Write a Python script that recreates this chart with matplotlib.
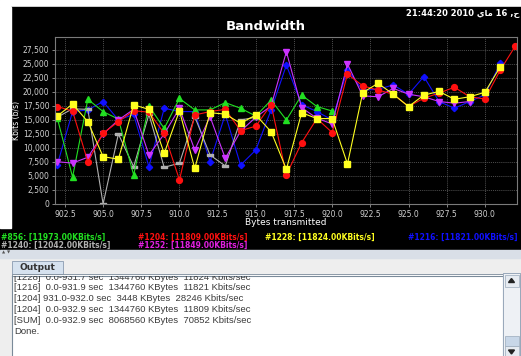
import numpy as np
import matplotlib.pyplot as plt
from matplotlib.patches import Rectangle, Polygon
from matplotlib.ticker import FixedLocator, FixedFormatter

W, H = 521, 356

# --- bandwidth samples (Kbits/s) per stream, one per second ---
seconds = np.arange(902, 933)
nan = np.nan

rate_856 = [15350, 4800, 18700, 16500, 15150, 5200, 17500, 13500, 18850, 16800,
            16800, 18100, 17100, 15700, 18550, 15000, 19450, 17400, 16600, nan,
            nan, nan, nan, nan, nan, nan, nan, nan, nan, nan, nan]
rate_1204 = [17400, 16600, 7550, 12650, 14700, 16650, 16400, 12600, 4300, 15900,
             16500, 16900, 13100, 13900, 17750, 5200, 10950, 15250, 12750, 23200,
             21100, 20350, 19600, 17400, 18900, 19800, 20850, 19150, 18750, 23900,
             28246]
rate_1228 = [15700, 17850, 14700, 8450, 8000, 17700, 16900, 9050, 16650, 6350,
             16300, 16050, 14400, 15900, 12900, 6200, 16300, 15250, 15250, 7150,
             19900, 21550, 19600, 17400, 19450, 20100, 18700, 19150, 19950, 24500,
             nan]
rate_1216 = [7000, 16500, 16800, 18300, 15000, 16000, 6650, 17100, 16500, 16500,
             7550, 16000, 6950, 9650, 16800, 24800, 17750, 16500, 15000, 24000,
             20300, 20500, 21250, 19600, 22750, 18300, 17100, 18300, 19500, 25100,
             nan]
rate_1240 = [15500, 17000, 16900, 0, 12500, 6650, 16000, 6550, 7300, 15600,
             8750, 6800, 15000, 15500, nan, nan, nan, nan, nan, nan,
             nan, nan, nan, nan, nan, nan, nan, nan, nan, nan, nan]
rate_1252 = [7550, 7300, 8350, 12500, 15000, 16900, 8750, 12500, 17100, 9650,
             15600, 8150, 13000, 15500, 17500, 27200, 17200, 15300, 14300, 25000,
             19300, 19150, 20650, 19600, 19150, 18300, 18000, 18300, nan, nan,
             nan]

legend_rows = [
    [("#856: [11973.00KBits/s]", "#22e022"), ("#1204: [11809.00KBits/s]", "#ff1010"),
     ("#1228: [11824.00KBits/s]", "#ffff20"), ("#1216: [11821.00KBits/s]", "#1010ff")],
    [("#1240: [12042.00KBits/s]", "#b0b0b0"), ("#1252: [11849.00KBits/s]", "#e020e0")],
]

output_lines = [
    "[1228]  0.0-931.7 sec  1344760 KBytes  11824 Kbits/sec",
    "[1216]  0.0-931.9 sec  1344760 KBytes  11821 Kbits/sec",
    "[1204] 931.0-932.0 sec  3448 KBytes  28246 Kbits/sec",
    "[1204]  0.0-932.9 sec  1344760 KBytes  11809 Kbits/sec",
    "[SUM]  0.0-932.9 sec  8068560 KBytes  70852 Kbits/sec",
    "Done.",
]

y_ticks = np.arange(0, 27501, 2500)
x_ticks = np.arange(902.5, 930.1, 2.5)

fig = plt.figure(figsize=(W / 100, H / 100), dpi=100)
fig.patch.set_facecolor("#eeeeee")


def px_axes(x0, y0, x1, y1, **kw):
    return fig.add_axes([x0 / W, 1 - y1 / H, (x1 - x0) / W, (y1 - y0) / H], **kw)


# background layer in pixel coordinates (y down)
bg = fig.add_axes([0, 0, 1, 1])
bg.set_xlim(0, W)
bg.set_ylim(H, 0)
bg.axis("off")
bg.add_patch(Rectangle((0, 0), W, 7, color="white"))
bg.add_patch(Rectangle((11, 7), W - 11, 243, color="black"))
bg.add_patch(Rectangle((0, 228), 11, 22, color="black"))
bg.add_patch(Rectangle((0, 7), 11, 221, color="white"))
# split pane divider
bg.add_patch(Rectangle((0, 250), W, 8, color="#d9dfe7"))
bg.text(4, 252.5, "\u25b2", fontsize=3, color="#555555", ha="center", va="center")
bg.text(9, 252.5, "\u25bc", fontsize=3, color="#555555", ha="center", va="center")
# Output tab
bg.add_patch(Rectangle((12, 261), 51, 12.5, facecolor="#d6e2ef", edgecolor="#8a9bb0", lw=0.6))
bg.text(37, 267.5, "Output", fontsize=6.5, fontweight="bold", color="#333333",
        ha="center", va="center")
bg.add_patch(Rectangle((12, 273.5), 491, 3, facecolor="white", edgecolor="#7a8a99", lw=0.6))

# header texts
bg.text(266, 27, "Bandwidth", fontsize=9.5, fontweight="bold", color="white",
        ha="center", va="center")
bg.text(519, 13.5, "21:44:20 2010 \ufef1\ufe8e\ufee3 16 ,\ufea1", fontsize=6,
        fontweight="bold", color="white", ha="right", va="center")
bg.text(16, 120, "Kbits (b/s)", fontsize=5.5, color="white", rotation=90,
        ha="center", va="center")
bg.text(286, 222.5, "Bytes transmitted", fontsize=6.5, color="white",
        ha="center", va="center")

# legend rows under the chart
col_x = [1, 138, 265, 408]
for row, yy in zip(legend_rows, [237, 245.5]):
    for (label, color), xx in zip(row, col_x):
        bg.text(xx, yy, label, fontsize=5.5, fontweight="bold", color=color,
                ha="left", va="center")

# --- chart ---
ax = px_axes(55, 37, 517, 204)
ax.set_facecolor("black")

hrect = [(-1, -0.45), (1, -0.45), (1, 0.45), (-1, 0.45), (-1, -0.45)]
series = [
    (rate_1216, "#1010ff", "D", 3.2),
    (rate_1240, "#b0b0b0", hrect, 4.5),
    (rate_856, "#22e022", "^", 4.5),
    (rate_1252, "#cc33ff", "v", 4.5),
    (rate_1204, "#ff1010", "o", 4.2),
    (rate_1228, "#ffff20", "s", 4.2),
]
for vals, color, marker, ms in series:
    ax.plot(seconds, np.array(vals, dtype=float), color=color, lw=0.8,
            marker=marker, ms=ms, mec=color, mfc=color)

ax.set_xlim(901.85, 932.1)
ax.set_ylim(0, 29820)
ax.xaxis.set_major_locator(FixedLocator(x_ticks))
ax.xaxis.set_major_formatter(FixedFormatter([f"{v:.1f}" for v in x_ticks]))
ax.yaxis.set_major_locator(FixedLocator(y_ticks))
ax.yaxis.set_major_formatter(FixedFormatter([f"{v:,}" for v in y_ticks]))
ax.tick_params(colors="#9a9a9a", labelcolor="#d0d0d0", labelsize=5.5,
               length=2, width=0.6, pad=2)
ax.grid(True, color="#6a6a6a", lw=0.5, ls=(0, (1.5, 1.5)))
for sp in ax.spines.values():
    sp.set_color("#7a7a7a")
    sp.set_linewidth(0.8)

# --- output text area (scrolled so the first line is half hidden) ---
ta = px_axes(12, 276, 503, 358)
ta.set_facecolor("white")
ta.set_xlim(0, 491)
ta.set_ylim(82, 0)
ta.set_xticks([])
ta.set_yticks([])
for sp in ta.spines.values():
    sp.set_color("#7a8a99")
    sp.set_linewidth(0.8)
for i, line in enumerate(output_lines):
    ta.text(2, 1.2 + i * 10.8, line, fontsize=6.8, color="#3a3a3a",
            family="Liberation Sans", ha="left", va="center", clip_on=True)

# vertical scrollbar
sb = px_axes(503, 273.5, 520, 358)
sb.set_facecolor("#eef1f5")
sb.set_xlim(0, 17)
sb.set_ylim(84.5, 0)
sb.set_xticks([])
sb.set_yticks([])
for sp in sb.spines.values():
    sp.set_color("#8a9bb0")
    sp.set_linewidth(0.6)
sb.add_patch(Rectangle((1.5, 1), 14, 12, facecolor="#e6ebf1", edgecolor="#9aaabb", lw=0.5))
sb.add_patch(Polygon([(5.5, 9), (11.5, 9), (8.5, 5)], color="#222222"))
sb.add_patch(Rectangle((1.5, 62), 14, 10, facecolor="#c8d7e8", edgecolor="#9aaabb", lw=0.5))
sb.add_patch(Rectangle((1.5, 72.5), 14, 12, facecolor="#e6ebf1", edgecolor="#9aaabb", lw=0.5))
sb.add_patch(Polygon([(5.5, 76.5), (11.5, 76.5), (8.5, 80.5)], color="#222222"))

fig.savefig("out.png", dpi=100, facecolor=fig.get_facecolor())
